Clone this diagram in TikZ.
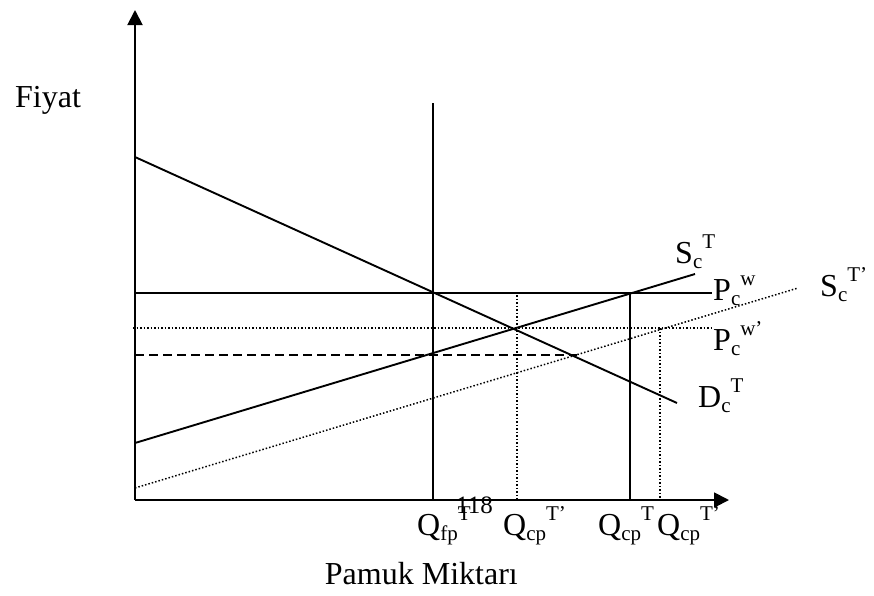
\documentclass[tikz,border=0pt]{standalone}
\usepackage{fontspec}
\setmainfont{Liberation Serif}
\usetikzlibrary{arrows.meta}
\newcommand{\mylab}[3]{{\fontsize{32}{36}\selectfont #1}{\fontsize{21}{24}\selectfont\raisebox{-5pt}{#2}\raisebox{15pt}{#3}}}
\begin{document}
\begin{tikzpicture}[x=1pt,y=-1pt,
  solidln/.style={line width=1.9pt},
  dotln/.style={line width=1.5pt,dash pattern=on 1.5pt off 2pt},
  dashln/.style={line width=1.7pt,dash pattern=on 9pt off 5pt},
  axisln/.style={line width=1.9pt,-{Triangle[length=15pt,width=15pt]}},
  lbl/.style={inner sep=0pt,anchor=base west}]
\useasboundingbox (0,0) rectangle (874,595);
% coordinates
\coordinate (O) at (135,500);
\coordinate (ytip) at (135,10);
\coordinate (xtip) at (729,500);
\coordinate (dA) at (135,157);
\coordinate (dB) at (677,403);
\coordinate (qfpT) at (433,103);
\coordinate (qfpB) at (433,500);
\coordinate (pwA) at (135,293);
\coordinate (pwB) at (712,293);
\coordinate (sA) at (135,443);
\coordinate (sB) at (695,274);
\coordinate (spA) at (135,488);
\coordinate (spB) at (798,288);
\coordinate (pwpA) at (133,328);
\coordinate (pwpB) at (712,328);
\coordinate (dsA) at (135,355);
\coordinate (dsB) at (577,355);
\coordinate (v1T) at (517,295);
\coordinate (v1B) at (517,500);
\coordinate (v2T) at (630,293);
\coordinate (v2B) at (630,500);
\coordinate (v3T) at (660,328);
\coordinate (v3B) at (660,500);
% axes
\draw[axisln] (O) -- (ytip);
\draw[axisln] (O) -- (xtip);
% lines
\draw[solidln] (dA) -- (dB);
\draw[solidln] (qfpT) -- (qfpB);
\draw[solidln] (pwA) -- (pwB);
\draw[solidln] (sA) -- (sB);
\draw[dotln] (spA) -- (spB);
\draw[dotln] (pwpA) -- (pwpB);
\draw[dashln] (dsA) -- (dsB);
\draw[dotln] (v1T) -- (v1B);
\draw[solidln] (v2T) -- (v2B);
\draw[dotln] (v3T) -- (v3B);
% labels
\node[lbl] (fiyat) at (15,107) {\fontsize{32}{36}\selectfont Fiyat};
\node[inner sep=0pt,anchor=base east] (pamuk) at (518,584) {\fontsize{32}{36}\selectfont Pamuk Miktarı};
\node[lbl] (lST) at (675,263) {\mylab{S}{c}{T}};
\node[lbl] (lPw) at (713,300) {\mylab{P}{c}{w}};
\node[lbl] (lSTp) at (820,296) {\mylab{S}{c}{T’}};
\node[lbl] (lPwp) at (713,350) {\mylab{P}{c}{w’}};
\node[lbl] (lDT) at (698,407) {\mylab{D}{c}{T}};
\node[lbl] (lQfp) at (417,535) {\mylab{Q}{fp}{T}};
\node[lbl] (lQ1) at (503,535) {\mylab{Q}{cp}{T’}};
\node[lbl] (lQ2) at (598,535) {\mylab{Q}{cp}{T}};
\node[lbl] (lQ3) at (657,535) {\mylab{Q}{cp}{T’}};
\node[lbl] (pg) at (456,513) {\fontsize{25}{28}\selectfont 118};
\end{tikzpicture}
\end{document}
